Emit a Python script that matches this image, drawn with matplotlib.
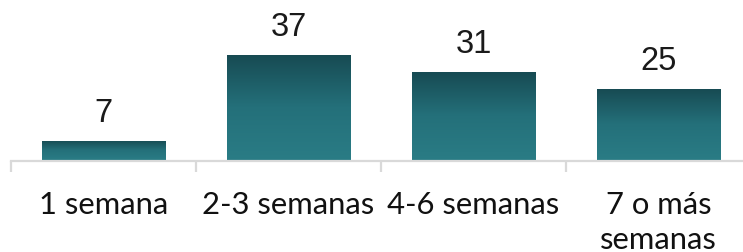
import numpy as np
import matplotlib.pyplot as plt
from matplotlib.colors import LinearSegmentedColormap

# data
categories = ["1 semana", "2-3 semanas", "4-6 semanas", "7 o más\nsemanas"]
values = [7, 37, 31, 25]

W, H, DPI = 743, 252, 100
fig = plt.figure(figsize=(W / DPI, H / DPI), dpi=DPI)

# axes spans past the right edge, like the original chart
left, right = 11 / W, 751 / W
base = (H - 160.5) / H
ax = fig.add_axes([left, base, right - left, 1 - base])

bars = ax.bar(range(len(values)), values, width=0.67, color="none", edgecolor="none")

# vertical gradient, dark at top
cmap = LinearSegmentedColormap.from_list("teal", ["#2a7c85", "#24707a", "#174a52"])
grad = np.linspace(0, 1, 256).reshape(-1, 1)
for b in bars:
    x0, y0 = b.get_x(), b.get_y()
    im = ax.imshow(grad, cmap=cmap, aspect="auto", origin="lower",
                   extent=(x0, x0 + b.get_width(), y0, y0 + b.get_height()),
                   zorder=2)
    im.set_clip_path(b)
ax.set_xlim(-0.5, len(categories) - 0.5)
ax.set_ylim(0, 56.3)

# value labels
for i, v in enumerate(values):
    ax.annotate(str(v), xy=(i, v), xytext=(0, 13.7), textcoords="offset points",
                ha="center", va="baseline", fontsize=23.5,
                family="Liberation Sans", color="#1a1a1a")

# category labels, one line at a time
for i, c in enumerate(categories):
    for k, line in enumerate(c.split("\n")):
        ax.annotate(line, xy=(i, 0), xycoords=("data", "axes fraction"),
                    xytext=(0, -38.5 - 25.5 * k), textcoords="offset points",
                    ha="center", va="baseline", fontsize=22.3,
                    family="Lato", color="#111111")

for s in ["top", "right", "left"]:
    ax.spines[s].set_visible(False)
ax.spines["bottom"].set_color("#d9d9d9")
ax.spines["bottom"].set_linewidth(1.6)
ax.set_yticks([])
ax.set_xticks([])
ax.set_xticks(np.arange(-0.5, len(categories)), minor=True)
ax.tick_params(axis="x", which="minor", length=8, width=1.6, color="#d9d9d9")

fig.savefig("out.png", dpi=DPI)
